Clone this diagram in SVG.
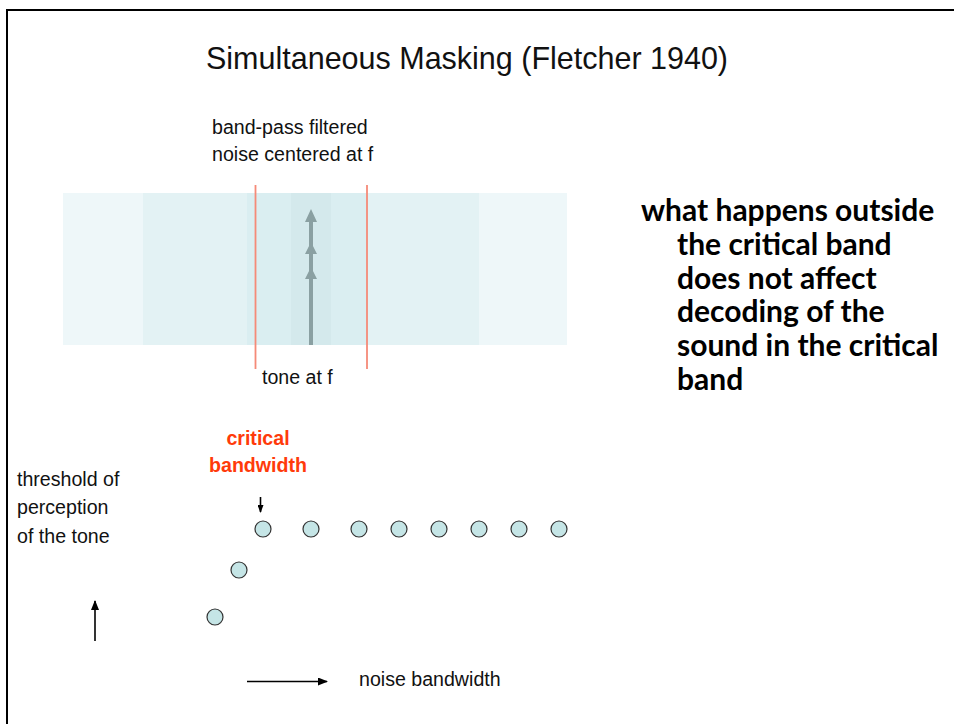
<svg xmlns="http://www.w3.org/2000/svg" width="954" height="724" viewBox="0 0 954 724">
<defs>
<style>
.t{font-family:"Liberation Sans",Arial,sans-serif;font-size:19.6px;fill:#111}
.red{font-family:"Liberation Sans",Arial,sans-serif;font-size:19.6px;font-weight:bold;fill:#ff3a0a}
.side{font-family:Lato,"Liberation Sans",sans-serif;font-size:30px;font-weight:bold;fill:#000}
.dot{fill:#c5e5e6;stroke:#333;stroke-width:1.2}
.ax{stroke:#000;stroke-width:1.6;fill:none}
.rl{stroke:#f58a78;stroke-width:1.8}
</style>
<marker id="ah" markerWidth="10" markerHeight="8" refX="9" refY="4" orient="auto" markerUnits="userSpaceOnUse">
<path d="M0,0 L10,4 L0,8 z" fill="#000"/>
</marker>
<marker id="ahs" markerWidth="8" markerHeight="6" refX="7" refY="3" orient="auto" markerUnits="userSpaceOnUse">
<path d="M0,0 L8,3 L0,6 z" fill="#000"/>
</marker>
</defs>
<rect x="0" y="0" width="954" height="724" fill="#fff"/>
<path d="M7,740 V10 H960" fill="none" stroke="#000" stroke-width="2"/>
<text x="467" y="69" text-anchor="middle" textLength="522" lengthAdjust="spacingAndGlyphs" style="font-family:'Liberation Sans',Arial,sans-serif;font-size:32px;fill:#111">Simultaneous Masking (Fletcher 1940)</text>

<g id="band">
<rect x="63" y="193" width="504" height="152" fill="#eef7f9"/>
<rect x="143" y="193" width="336" height="152" fill="#e3f2f4"/>
<rect x="247" y="193" width="121" height="152" fill="#daeef1"/>
<rect x="291" y="193" width="40" height="152" fill="#d4e9ec"/>
<line class="rl" x1="255.5" y1="185" x2="255.5" y2="369"/>
<line class="rl" x1="367" y1="185" x2="367" y2="369"/>
<line x1="311" y1="345" x2="311" y2="220" stroke="#8aa0a2" stroke-width="4"/>
<path d="M311,209 L317,222 L305,222 z M311,242 L317,254 L305,254 z M311,267 L317,279 L305,279 z" fill="#8aa0a2"/>
</g>
<g id="labels">
<text class="t" x="212" y="134">band-pass filtered</text>
<text class="t" x="212" y="161">noise centered at f</text>
<text class="t" x="262" y="384">tone at f</text>
<text class="red" x="258" y="445" text-anchor="middle">critical</text>
<text class="red" x="258" y="472" text-anchor="middle">bandwidth</text>
<text class="t" x="17" y="486">threshold of</text>
<text class="t" x="17" y="514">perception</text>
<text class="t" x="17" y="543">of the tone</text>
<text class="t" x="359" y="686">noise bandwidth</text>
</g>
<g id="note">
<text class="side" x="641" y="221">what happens outside</text>
<text class="side" x="677" y="255">the critical band</text>
<text class="side" x="677" y="289">does not affect</text>
<text class="side" x="677" y="322">decoding of the</text>
<text class="side" x="677" y="356">sound in the critical</text>
<text class="side" x="677" y="390">band</text>
</g>
<g id="points">
<circle class="dot" cx="263" cy="529" r="8"/>
<circle class="dot" cx="311" cy="529" r="8"/>
<circle class="dot" cx="359" cy="529" r="8"/>
<circle class="dot" cx="399" cy="529" r="8"/>
<circle class="dot" cx="439" cy="529" r="8"/>
<circle class="dot" cx="479" cy="529" r="8"/>
<circle class="dot" cx="519" cy="529" r="8"/>
<circle class="dot" cx="559" cy="529" r="8"/>
<circle class="dot" cx="239" cy="570" r="8"/>
<circle class="dot" cx="215" cy="617" r="8"/>
</g>
<g id="connectors">
<line class="ax" x1="260.5" y1="497" x2="260.5" y2="512" marker-end="url(#ahs)" stroke-width="1.2"/>
<line class="ax" x1="95" y1="641" x2="95" y2="601" marker-end="url(#ah)"/>
<line class="ax" x1="247" y1="681.5" x2="327" y2="681.5" marker-end="url(#ah)"/>
</g>
</svg>
